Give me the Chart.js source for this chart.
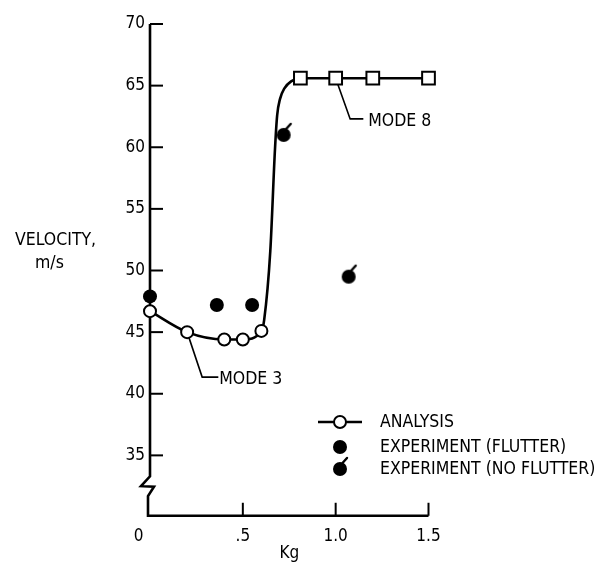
<!DOCTYPE html>
<html>
<head>
<meta charset="utf-8">
<script src="https://cdn.jsdelivr.net/npm/chart.js@4.4.0/dist/chart.umd.min.js"></script>
<style>
  html, body { margin: 0; padding: 0; background: #fff; }
  #wrap { width: 604px; height: 577px; }
</style>
</head>
<body>
<div id="wrap"><canvas id="chart" width="604" height="577"></canvas></div>
<script>
// analysis curve: open circles (mode 3), squares (mode 8); the unmarked
// points only trace the steep jump between the two branches
const analysisKg     = [0, 0.2, 0.4, 0.5, 0.6, 0.615, 0.648, 0.673, 0.685, 0.70, 0.725, 0.76, 0.81, 1.0, 1.2, 1.5];
const analysisVel    = [46.7, 45.0, 44.4, 44.4, 45.1, 46.0, 51.6, 59.8, 62.6, 63.9, 64.8, 65.35, 65.6, 65.6, 65.6, 65.6];
const analysisMarker = ['circle', 'circle', 'circle', 'circle', 'circle', '', '', '', '', '', '', '', 'rect', 'rect', 'rect', 'rect'];

const flutterKg  = [0, 0.36, 0.55];
const flutterVel = [47.9, 47.2, 47.2];

const noFlutterKg  = [0.72, 1.07];
const noFlutterVel = [61.0, 49.5];

const seriesLabels = ['ANALYSIS', 'EXPERIMENT (FLUTTER)', 'EXPERIMENT (NO FLUTTER)'];
const xTickValues = [0, 0.5, 1.0, 1.5];
const xTickLabels = ['0\u2003\u2002', '.5', '1.0', '1.5'];
const yTickValues = [35, 40, 45, 50, 55, 60, 65, 70];
const yTickLabels = ['35', '40', '45', '50', '55', '60', '65', '70'];

const FONT = "'DejaVu Sans Condensed', 'DejaVu Sans', sans-serif";
const INK = '#000';

function toPoints(xs, ys) {
    return xs.map((x, i) => ({ x: x, y: ys[i] }));
}

// filled circle with the little flag used for "no flutter"
function noFlutterMark() {
    const c = document.createElement('canvas');
    c.width = 32; c.height = 32;
    const g = c.getContext('2d');
    g.fillStyle = INK;
    g.beginPath(); g.arc(16, 16, 7, 0, Math.PI * 2); g.fill();
    g.strokeStyle = INK; g.lineWidth = 2.4; g.lineCap = 'round';
    g.beginPath(); g.moveTo(18.5, 10); g.lineTo(23, 5); g.stroke();
    return c;
}
const flagMark = noFlutterMark();

const decor = {
    id: 'decor',
    beforeDatasetsDraw(chart) {
        const ctx = chart.ctx;
        const xs = chart.scales.x, ys = chart.scales.y;
        const left = xs.getPixelForValue(0);
        const bottom = ys.getPixelForValue(30.1);
        ctx.save();
        ctx.strokeStyle = INK;
        ctx.lineWidth = 2.6;
        ctx.lineJoin = 'miter';
        // y axis with the break
        ctx.beginPath();
        ctx.moveTo(left, ys.getPixelForValue(70));
        ctx.lineTo(left, ys.getPixelForValue(33.3));
        ctx.lineTo(left - 9, ys.getPixelForValue(32.5));
        ctx.lineTo(left + 4, ys.getPixelForValue(32.45));
        ctx.lineTo(left - 2, ys.getPixelForValue(31.7));
        ctx.lineTo(left - 2, bottom);
        ctx.lineTo(xs.getPixelForValue(1.5), bottom);
        ctx.stroke();
        // inward ticks
        ctx.lineWidth = 2;
        yTickValues.forEach(v => {
            const y = ys.getPixelForValue(v);
            ctx.beginPath(); ctx.moveTo(left, y); ctx.lineTo(left + 13, y); ctx.stroke();
        });
        xTickValues.slice(1).forEach(v => {
            const x = xs.getPixelForValue(v);
            ctx.beginPath(); ctx.moveTo(x, bottom); ctx.lineTo(x, bottom - 13); ctx.stroke();
        });
        // leader lines for the mode labels
        ctx.lineWidth = 1.6;
        ctx.beginPath();
        ctx.moveTo(xs.getPixelForValue(0.2), ys.getPixelForValue(45.0));
        ctx.lineTo(xs.getPixelForValue(0.281), ys.getPixelForValue(41.35));
        ctx.lineTo(xs.getPixelForValue(0.368), ys.getPixelForValue(41.35));
        ctx.moveTo(xs.getPixelForValue(1.0), ys.getPixelForValue(65.6));
        ctx.lineTo(xs.getPixelForValue(1.078), ys.getPixelForValue(62.3));
        ctx.lineTo(xs.getPixelForValue(1.149), ys.getPixelForValue(62.3));
        ctx.stroke();
        ctx.restore();
    },
    afterDraw(chart) {
        const ctx = chart.ctx;
        const xs = chart.scales.x, ys = chart.scales.y;
        ctx.save();
        ctx.fillStyle = INK;
        ctx.font = '17.5px ' + FONT;
        ctx.textBaseline = 'middle';
        ctx.textAlign = 'left';
        ctx.fillText('MODE 3', xs.getPixelForValue(0.373), ys.getPixelForValue(41.2));
        ctx.fillText('MODE 8', xs.getPixelForValue(1.175), ys.getPixelForValue(62.1));
        // axis title, written level at the left
        ctx.fillText('VELOCITY,', 15, 240);
        ctx.fillText('m/s', 35, 263);

        // legend
        const lx = 340, tx = 380;
        const rows = [422, 447, 469];
        ctx.strokeStyle = INK;
        ctx.lineWidth = 2.4;
        ctx.beginPath(); ctx.moveTo(318, rows[0]); ctx.lineTo(362, rows[0]); ctx.stroke();
        ctx.fillStyle = '#fff';
        ctx.lineWidth = 2;
        ctx.beginPath(); ctx.arc(lx, rows[0], 6, 0, Math.PI * 2); ctx.fill(); ctx.stroke();
        ctx.fillStyle = INK;
        ctx.beginPath(); ctx.arc(lx, rows[1], 7, 0, Math.PI * 2); ctx.fill();
        ctx.drawImage(flagMark, lx - 16, rows[2] - 16);
        seriesLabels.forEach((t, i) => ctx.fillText(t, tx, rows[i]));
        ctx.restore();
    }
};

new Chart(document.getElementById('chart'), {
    type: 'scatter',
    data: {
        datasets: [
            {
                label: seriesLabels[0],
                data: toPoints(analysisKg, analysisVel),
                showLine: true,
                borderColor: INK,
                borderWidth: 2.6,
                cubicInterpolationMode: 'monotone',
                pointStyle: analysisMarker.map(m => m || 'circle'),
                pointRadius: analysisMarker.map(m => m === 'rect' ? 9 : (m ? 6 : 0)),
                pointBackgroundColor: '#fff',
                pointBorderColor: INK,
                pointBorderWidth: 2,
                clip: false
            },
            {
                label: seriesLabels[1],
                data: toPoints(flutterKg, flutterVel),
                pointStyle: 'circle',
                pointRadius: 7,
                pointBackgroundColor: INK,
                pointBorderColor: INK,
                pointBorderWidth: 0,
                clip: false
            },
            {
                label: seriesLabels[2],
                data: toPoints(noFlutterKg, noFlutterVel),
                pointStyle: flagMark,
                pointRadius: 7,
                clip: false
            }
        ]
    },
    plugins: [decor],
    options: {
        responsive: false,
        animation: false,
        events: [],
        layout: { padding: { left: 0, right: 175.5, top: 24, bottom: 13 } },
        plugins: { legend: { display: false }, tooltip: { enabled: false } },
        scales: {
            x: {
                type: 'linear',
                min: 0,
                max: 1.5,
                grid: { display: false, drawTicks: false },
                border: { display: false },
                afterBuildTicks: s => { s.ticks = xTickValues.map(v => ({ value: v })); },
                afterFit: s => { s.height = 47; },
                ticks: {
                    padding: 9,
                    color: INK,
                    font: { family: FONT, size: 17 },
                    maxRotation: 0,
                    autoSkip: false,
                    callback: v => xTickLabels[xTickValues.indexOf(v)]
                },
                title: {
                    display: true,
                    text: 'Kg',
                    color: INK,
                    font: { family: FONT, size: 17 },
                    padding: { top: 0, bottom: 0 }
                }
            },
            y: {
                type: 'linear',
                min: 30,
                max: 70,
                grid: { display: false, drawTicks: false },
                border: { display: false },
                afterBuildTicks: s => { s.ticks = yTickValues.map(v => ({ value: v })); },
                afterFit: s => { s.width = 150; },
                ticks: {
                    padding: 5,
                    color: INK,
                    font: { family: FONT, size: 17 },
                    autoSkip: false,
                    callback: v => yTickLabels[yTickValues.indexOf(v)]
                }
            }
        }
    }
});
</script>
</body>
</html>
